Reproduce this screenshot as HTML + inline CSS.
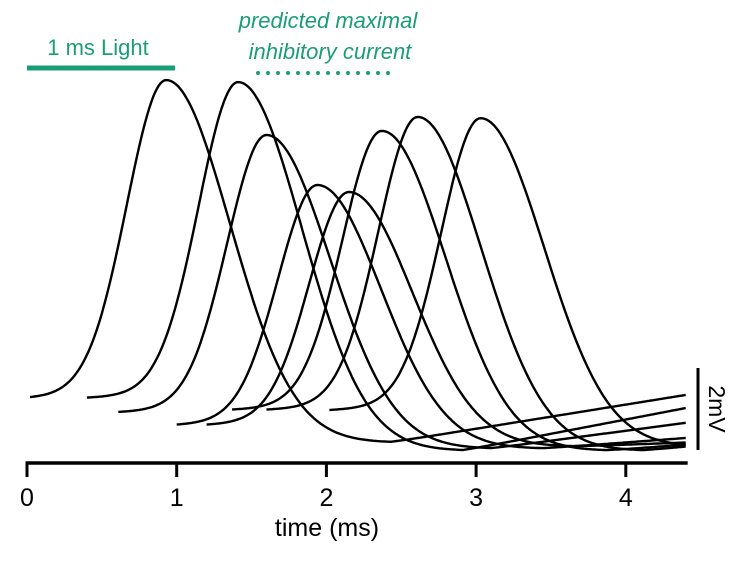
<!DOCTYPE html>
<html><head><meta charset="utf-8"><style>
html,body{margin:0;padding:0;background:#fff;}
svg{display:block;font-family:"Liberation Sans",sans-serif;}
</style></head><body>
<svg id="chart" width="739" height="566" viewBox="0 0 739 566">
<g>
<text x="98" y="55" text-anchor="middle" font-size="22" fill="#1a9e77">1 ms Light</text>
<line x1="27" y1="68" x2="175" y2="68" stroke="#1a9e77" stroke-width="5"/>
</g>
<g>
<text x="328" y="28" text-anchor="middle" font-size="22" font-style="italic" fill="#1a9e77">predicted maximal</text>
<text x="330" y="59" text-anchor="middle" font-size="22" font-style="italic" fill="#1a9e77">inhibitory current</text>
<g id="dots"></g>
</g>
<g id="traces"></g>
<g id="axis"></g>
<text x="327" y="536" text-anchor="middle" font-size="25">time (ms)</text>
<line x1="698" y1="368" x2="698" y2="450" stroke="#000" stroke-width="3"/>
<text transform="translate(709,409) rotate(90)" text-anchor="middle" font-size="23">2mV</text>
</svg>
<script>
const tickLabels = [0,1,2,3,4];
const startT = [0.02,0.4,0.61,1.0,1.2,1.37,1.6,2.02];
const baseV = [1.59,1.59,1.24,0.93,0.93,1.3,1.3,1.29];
const peakT = [0.93,1.41,1.6,1.94,2.15,2.37,2.61,3.03];
const peakV = [9.34,9.29,8.0,6.78,6.61,8.1,8.44,8.41];
const troughV = [0.5,0.3,0.35,0.35,0.4,0.3,0.3,0.4];
const endV = [1.66,1.34,0.98,0.61,0.5,0.45,0.4,0.45];
const endT = 4.4;
const NS = 'http://www.w3.org/2000/svg';
const xs = t => 27 + 149.7 * t;
const ys = v => 463 - 41 * v;
const axis = document.getElementById('axis');
let al = document.createElementNS(NS,'line');


al.setAttribute('x1',xs(0)-1.5);al.setAttribute('x2',xs(endT)+2);al.setAttribute('y1',463);al.setAttribute('y2',463);
al.setAttribute('stroke','#000');al.setAttribute('stroke-width',3.5);axis.appendChild(al);
tickLabels.forEach(t=>{
  const l=document.createElementNS(NS,'line');
  
  
  l.setAttribute('x1',xs(t));l.setAttribute('x2',xs(t));l.setAttribute('y1',463);l.setAttribute('y2',477);
  l.setAttribute('stroke','#000');l.setAttribute('stroke-width',3);axis.appendChild(l);
  const tx=document.createElementNS(NS,'text');
  
  
  tx.setAttribute('x',xs(t));tx.setAttribute('y',506);tx.setAttribute('text-anchor','middle');tx.setAttribute('font-size','25');
  tx.textContent=t;axis.appendChild(tx);
});
const dots=document.getElementById('dots');
for(let i=0;i<14;i++){
  const c=document.createElementNS(NS,'circle');
  
  
  c.setAttribute('cx',258+i*10);c.setAttribute('cy',73);c.setAttribute('r',2);c.setAttribute('fill','#1a9e77');
  dots.appendChild(c);
}
const traces=document.getElementById('traces');
const sr=0.37, sd=0.6;
for(let k=0;k<startT.length;k++){
  const rs = peakT[k]+1.5;
  const rate = rs<endT ? (endV[k]-troughV[k])/(endT-rs) : 0;
  let d='';
  for(let t=startT[k];t<=endT+1e-9;t+=0.01){
    let v;
    if(t<=peakT[k]){
      const g=Math.exp(-Math.pow((t-peakT[k])/sr,2));
      v=(baseV[k]+0.15*(t-startT[k]))*(1-g)+peakV[k]*g;
    } else v=troughV[k]+(peakV[k]-troughV[k])*Math.exp(-Math.pow((t-peakT[k])/sd,2))+rate*Math.max(0,t-rs);
    d+=(d?'L':'M')+xs(t).toFixed(1)+' '+ys(v).toFixed(1);
  }
  const p=document.createElementNS(NS,'path');
  
  
  p.setAttribute('d',d);p.setAttribute('fill','none');p.setAttribute('stroke','#000');p.setAttribute('stroke-width',2.4);
  traces.appendChild(p);
}
</script>
</body></html>
